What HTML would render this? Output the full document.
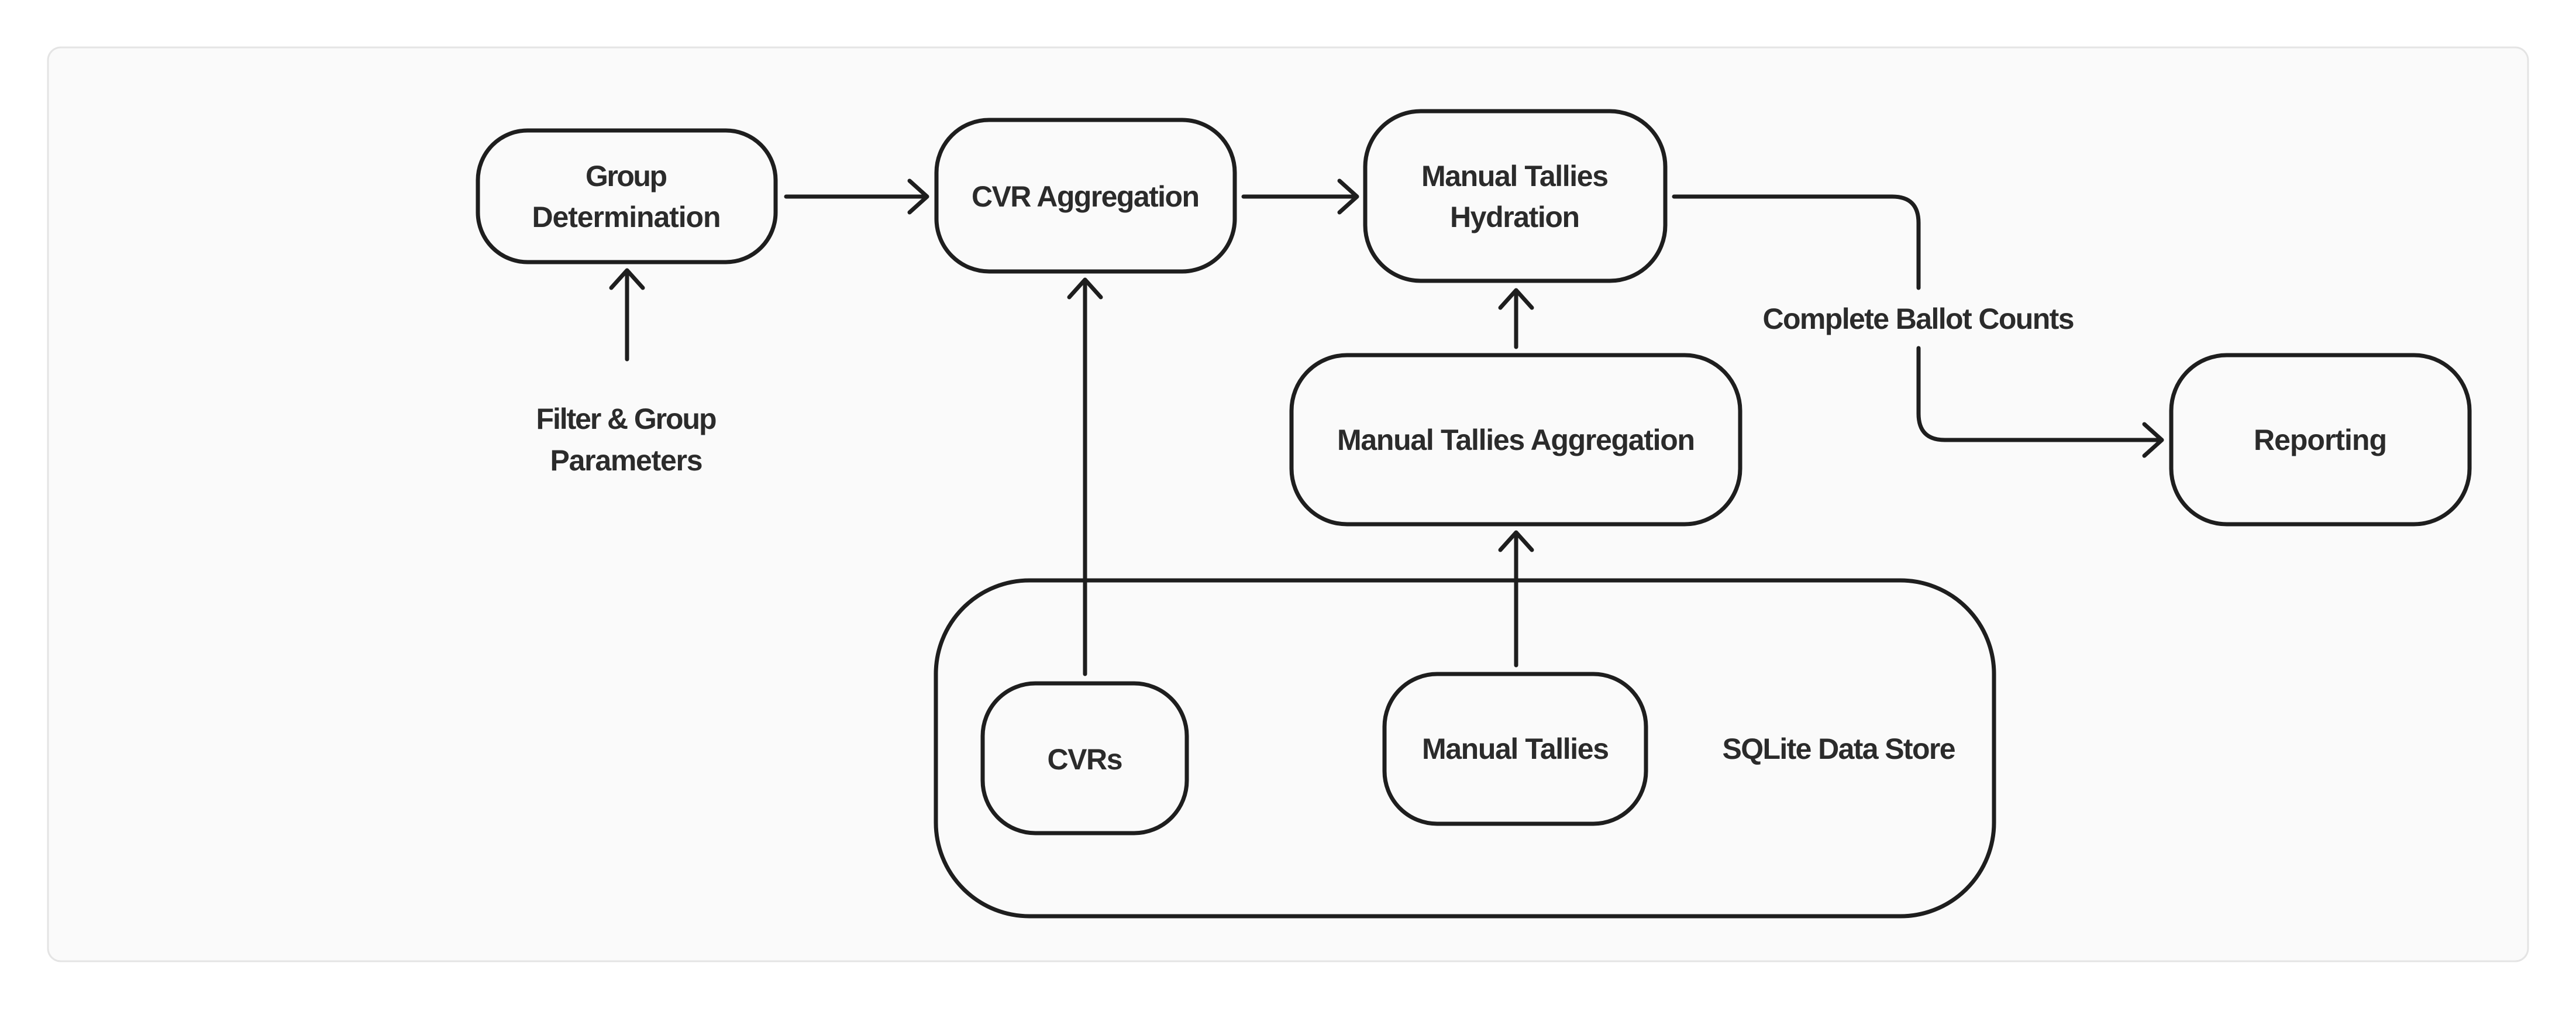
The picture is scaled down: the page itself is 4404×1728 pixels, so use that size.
<!DOCTYPE html>
<html><head><meta charset="utf-8"><style>
html,body{margin:0;padding:0;background:#fff;}
svg{display:block;}
text{font-family:"Liberation Sans",sans-serif;font-weight:700;fill:#2b2b2b;font-size:50px;text-anchor:middle;dominant-baseline:central;}
</style></head><body>
<svg width="4404" height="1728" viewBox="0 0 4404 1728" xmlns="http://www.w3.org/2000/svg">
<rect x="82" y="81" width="4240" height="1562" rx="22" fill="#fafafa" stroke="#e4e4e4" stroke-width="3"/>
<g fill="none" stroke="#1e1e1e" stroke-width="7" stroke-linecap="round" stroke-linejoin="round">
<rect x="817" y="223" width="509" height="225" rx="85"/>
<rect x="1601" y="205" width="510" height="259" rx="90"/>
<rect x="2334" y="190" width="513" height="290" rx="95"/>
<rect x="2208" y="607" width="767" height="289" rx="95"/>
<rect x="3712" y="607" width="510" height="289" rx="95"/>
<rect x="1600" y="992" width="1809" height="574" rx="160"/>
<rect x="1680" y="1168" width="349" height="256" rx="90"/>
<rect x="2367" y="1152" width="447" height="256" rx="90"/>
<path d="M1344 336 H1585 M1555 309 L1585 336 L1555 363"/>
<path d="M2126 336 H2320 M2290 309 L2320 336 L2290 363"/>
<path d="M1072 614 V462 M1045 492 L1072 462 L1099 492"/>
<path d="M1855 1152 V478 M1828 508 L1855 478 L1882 508"/>
<path d="M2592 1137 V910 M2565 940 L2592 910 L2619 940"/>
<path d="M2592 593 V496 M2565 526 L2592 496 L2619 526"/>
<path d="M2862 336 H3235 Q3280 336 3280 381 V492"/>
<path d="M3280 595 V707 Q3280 752 3325 752 H3696 M3666 725 L3696 752 L3666 779"/>
</g>
<text x="1071" y="301" textLength="140">Group</text>
<text x="1071" y="371" textLength="323">Determination</text>
<text x="1856" y="336" textLength="390">CVR Aggregation</text>
<text x="2590" y="301" textLength="320">Manual Tallies</text>
<text x="2590" y="371" textLength="222">Hydration</text>
<text x="2592" y="752" textLength="612">Manual Tallies Aggregation</text>
<text x="3967" y="752" textLength="228">Reporting</text>
<text x="1071" y="716" textLength="309">Filter &amp; Group</text>
<text x="1071" y="787" textLength="261">Parameters</text>
<text x="3280" y="545" textLength="533">Complete Ballot Counts</text>
<text x="1855" y="1298" textLength="129">CVRs</text>
<text x="2591" y="1280" textLength="320">Manual Tallies</text>
<text x="3144" y="1280" textLength="399">SQLite Data Store</text>
</svg>
</body></html>
